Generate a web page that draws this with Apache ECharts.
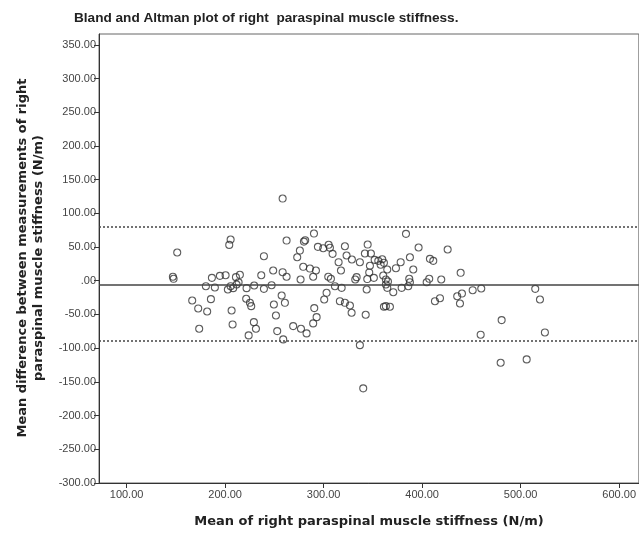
<!DOCTYPE html>
<html>
<head>
<meta charset="utf-8">
<script src="https://cdn.jsdelivr.net/npm/echarts@6/dist/echarts.min.js"></script>
<style>
  html, body { margin: 0; padding: 0; background: #fff; }
  #chart { width: 639px; height: 533px; }
</style>
</head>
<body>
<div id="chart"></div>
<script>
// mean of the two measurements (N/m)
const meanVals = [
  205.6, 204.2, 151.4, 239.4, 147.0, 147.7, 186.6, 194.7, 200.5, 211.0, 215.0, 236.7,
  180.5, 189.6, 202.8, 205.6, 208.2, 211.7, 213.7, 221.8, 229.5, 239.4, 166.6, 185.6,
  221.4, 225.2, 172.7, 181.8, 206.6, 226.5, 207.6, 173.7, 229.2, 231.3, 223.9,
  258.4, 290.2, 262.4, 281.3, 280.0, 275.9, 273.2, 294.2, 299.6, 305.1, 306.4, 309.1,
  321.6, 323.3, 328.7, 315.2, 317.6, 336.8, 344.7, 341.9, 348.0, 351.8, 355.5, 359.5,
  357.9, 347.0, 346.3, 344.3, 333.5, 332.1, 248.8, 258.4, 262.4, 247.2, 276.6, 279.3,
  286.1, 292.2, 289.4, 304.7, 307.4, 311.5, 318.3, 303.0, 300.6, 316.5, 321.6, 326.7,
  328.4, 343.7, 351.0, 363.2, 363.2, 363.2, 342.7, 249.5, 260.7, 257.4, 251.6, 290.5,
  292.9, 289.4, 269.1, 277.0, 282.7, 252.9, 259.0, 336.8,
  383.6, 396.4, 425.9, 387.6, 361.2, 378.2, 373.4, 391.0, 407.9, 411.3, 439.1, 364.6,
  360.5, 365.3, 386.9, 387.6, 385.9, 404.6, 407.2, 419.4, 379.2, 370.7, 364.6, 361.2,
  367.3, 413.0, 418.1, 435.6, 440.4, 438.4, 451.3, 460.0, 480.7, 459.4, 514.8, 519.6,
  340.2, 479.7, 506.1, 524.6
];
// difference between the two measurements (N/m)
const diffVals = [
  61.1, 53.2, 41.9, 36.4, 5.9, 2.9, 4.3, 7.3, 8.2, 5.3, 8.8, 8.2,
  -8.1, -10.0, -13.0, -8.1, -11.0, -5.6, -2.2, -11.0, -7.0, -12.0, -29.3, -27.3,
  -26.7, -32.7, -41.1, -45.6, -44.1, -37.7, -64.8, -71.2, -61.4, -71.2, -81.1,
  121.9, 70.0, 59.6, 60.1, 58.1, 44.8, 34.9, 50.3, 48.2, 53.3, 48.9, 39.9,
  51.2, 37.4, 31.5, 27.5, 15.2, 27.5, 53.7, 40.4, 40.4, 31.0, 29.5, 31.9,
  23.7, 22.2, 12.3, 2.5, 5.3, 1.9, 15.2, 12.7, 5.9, -6.6, 1.9, 20.7,
  18.1, 15.2, 5.9, 5.9, 2.9, -8.1, -10.5, -17.9, -27.8, -30.3, -32.7, -36.7,
  -47.5, -13.0, 4.3, 1.9, -5.6, -37.7, -50.4, -35.2, -32.7, -21.9, -51.5, -40.6,
  -54.0, -63.3, -67.3, -71.2, -78.1, -74.7, -87.0, -95.5,
  69.6, 49.3, 46.3, 34.9, 26.6, 27.5, 18.6, 16.7, 32.5, 29.5, 11.8, 16.7,
  7.8, -1.1, 2.9, -2.2, -8.1, -2.2, 2.9, 1.9, -10.5, -17.0, -10.5, -38.6,
  -38.6, -30.3, -25.9, -23.0, -19.0, -33.7, -14.0, -11.5, -58.4, -80.0, -12.0, -27.8,
  -159.6, -121.6, -116.7, -76.7
];
// mean difference and limits of agreement
const meanDiff = -5.5;
const upperLimit = 79.5;
const lowerLimit = -89.5;

const xTicks = [100, 200, 300, 400, 500, 600];
const yTicks = [-300, -250, -200, -150, -100, -50, 0, 50, 100, 150, 200, 250, 300, 350];

const fmt = (v) => (v === 0 ? '.00' : v.toFixed(2));

const chart = echarts.init(document.getElementById('chart'));

const nameStyle = { fontFamily: 'DejaVu Sans', fontSize: 13, fontWeight: 'bold', fill: '#222' };

const option = {
  animation: false,
  textStyle: { fontFamily: 'Liberation Sans, Arial, sans-serif' },
  title: {
    text: 'Bland and Altman plot of right  paraspinal muscle stiffness.',
    left: 69,
    top: 6,
    textStyle: { fontSize: 13.6, fontWeight: 'bold', color: '#222' }
  },
  // y axis title, two lines rotated
  graphic: [
    {
      type: 'text', x: 31, y: 258, rotation: Math.PI / 2,
      style: Object.assign({
        text: 'Mean difference between measurements of right\nparaspinal muscle stiffness (N/m)',
        align: 'center', verticalAlign: 'middle', lineHeight: 16
      }, nameStyle)
    }
  ],
  grid: {
    left: 99, right: 0, top: 34, bottom: 50,
    show: true, borderColor: '#666', borderWidth: 1
  },
  xAxis: {
    type: 'value',
    min: 72,
    max: 620,
    name: 'Mean of right paraspinal muscle stiffness (N/m)',
    nameLocation: 'middle',
    nameGap: 32,
    nameTextStyle: { fontFamily: 'DejaVu Sans', fontSize: 13, fontWeight: 'bold', color: '#222' },
    axisLine: { onZero: false, lineStyle: { color: '#333' } },
    axisTick: { customValues: xTicks, length: 5, lineStyle: { color: '#333' } },
    axisLabel: { customValues: xTicks, formatter: fmt, fontSize: 11, color: '#444', margin: 6 },
    splitLine: { show: false }
  },
  yAxis: {
    type: 'value',
    min: -300,
    max: 366,
    axisLine: { onZero: false, lineStyle: { color: '#333' } },
    axisTick: { customValues: yTicks, length: 5, lineStyle: { color: '#333' } },
    axisLabel: { customValues: yTicks, formatter: fmt, fontSize: 11, color: '#444', margin: 3 },
    splitLine: { show: false }
  },
  series: [
    {
      type: 'scatter',
      data: meanVals.map((m, i) => [m, diffVals[i]]),
      symbol: 'circle',
      symbolSize: 7,
      itemStyle: { color: 'rgba(255,255,255,0)', borderColor: '#333', borderWidth: 1.1 },
      markLine: {
        silent: true,
        symbol: 'none',
        label: { show: false },
        data: [
          { yAxis: meanDiff, lineStyle: { type: 'solid', color: '#444', width: 1.6 } },
          { yAxis: upperLimit, lineStyle: { type: [2, 2], color: '#444', width: 1.5 } },
          { yAxis: lowerLimit, lineStyle: { type: [2, 2], color: '#444', width: 1.5 } }
        ]
      }
    }
  ]
};

chart.setOption(option);
</script>
</body>
</html>
